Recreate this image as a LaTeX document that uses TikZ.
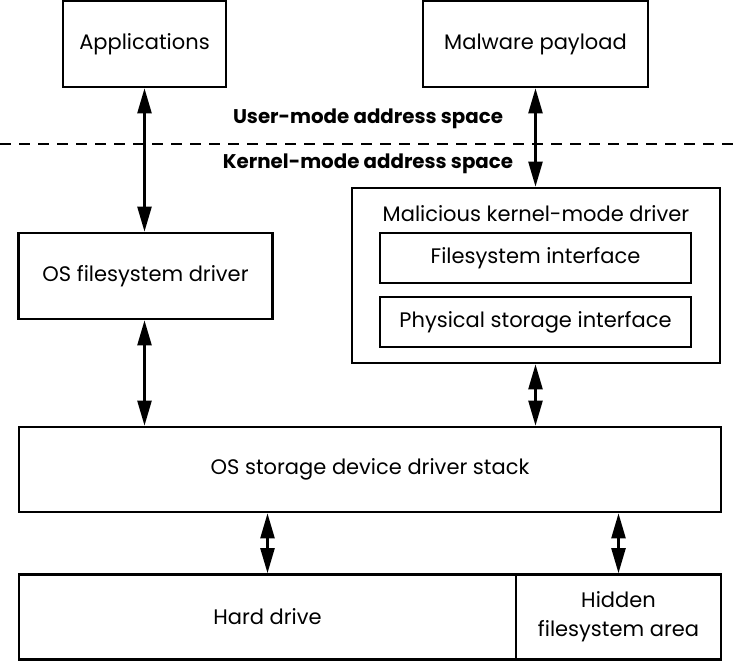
\documentclass[tikz,border=0pt]{standalone}
\usepackage{fontspec}
\setmainfont{Poppins}
\usetikzlibrary{arrows.meta}

\tikzset{
  box/.style={draw=black, line width=2.7pt, inner sep=0pt, font=\fontsize{21}{29}\selectfont},
  tag/.style={inner sep=0pt, font=\fontsize{21}{29}\selectfont},
  space/.style={inner sep=0pt, font=\bfseries\fontsize{19.8}{24}\selectfont},
  link/.style={line width=2.4pt, >={Triangle[length=25pt,width=14pt]}, <->},
}

\begin{document}
\begin{tikzpicture}[x=1pt, y=-1pt]
  \useasboundingbox (0,0) rectangle (737,662);

  % user mode
  \node[box, minimum width=163pt, minimum height=86pt] (apps) at (144.5, 44) {Applications};
  \node[box, minimum width=225pt, minimum height=86pt] (payload) at (535.5, 44) {Malware payload};

  \node[space] (user) at (368, 119) {User-mode address space};
  \coordinate (splitL) at (0, 144);
  \coordinate (splitR) at (737, 144);
  \draw[line width=2.6pt, dash pattern=on 11pt off 8pt] (splitL) -- (splitR);
  \node[space] (kernel) at (368, 164) {Kernel-mode address space};

  % kernel mode
  \node[box, minimum width=254pt, minimum height=86pt] (fsdrv) at (145.5, 276) {OS filesystem driver};
  \node[box, minimum width=368pt, minimum height=175pt] (maldrv) at (536, 275.5) {};
  \node[tag] (maltitle) at (536, 214) {Malicious kernel-mode driver};
  \node[box, minimum width=311pt, minimum height=50pt] (fsif) at (535.5, 258) {Filesystem interface};
  \node[box, minimum width=311pt, minimum height=50pt] (physif) at (535.5, 322) {Physical storage interface};

  \node[box, minimum width=702pt, minimum height=85pt] (stack) at (370, 469.5) {OS storage device driver stack};

  % disk
  \node[box, minimum width=497pt, minimum height=85pt] (hd) at (267.5, 617) {Hard drive};
  \node[box, minimum width=205pt, minimum height=85pt, align=center] (hidden) at (618.5, 617) {Hidden\\filesystem area};

  % connectors
  \draw[link] (apps.south) -- (apps.south |- fsdrv.north);
  \draw[link] (payload.south) -- (payload.south |- maldrv.north);
  \draw[link] (apps.south |- fsdrv.south) -- (apps.south |- stack.north);
  \draw[link] (payload.south |- maldrv.south) -- (payload.south |- stack.north);
  \draw[link] (hd.north) -- (hd.north |- stack.south);
  \draw[link] (hidden.north) -- (hidden.north |- stack.south);
\end{tikzpicture}
\end{document}
